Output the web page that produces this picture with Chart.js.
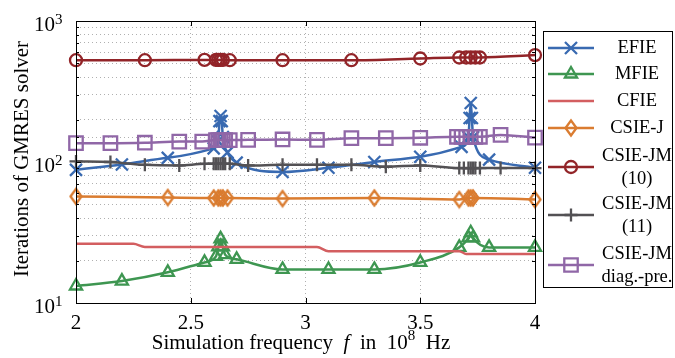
<!DOCTYPE html>
<html>
<head>
<meta charset="utf-8">
<script src="https://cdn.jsdelivr.net/npm/chart.js@4.4.0/dist/chart.umd.min.js"></script>
<style>
  html, body { margin: 0; padding: 0; background: #fff; }
  #wrap { width: 675px; height: 358px; }
</style>
</head>
<body>
<div id="wrap"><canvas id="chart"></canvas></div>
<script>
// series labels (legend)
const labels = ['EFIE', 'MFIE', 'CFIE', 'CSIE-J', ['CSIE-JM', '(10)'], ['CSIE-JM', '(11)'], ['CSIE-JM', 'diag.-pre.']];

// frequencies (10^8 Hz) and GMRES iterations
const efieF = [2, 2.2, 2.4, 2.6, 2.62, 2.625, 2.63, 2.635, 2.64, 2.66, 2.7, 2.9, 3.1, 3.3, 3.5, 3.68, 3.71, 3.715, 3.72, 3.725, 3.73, 3.8, 4];
const efieV = [88, 96, 107, 125, 140, 195, 212, 195, 150, 117, 99, 85, 91, 100, 109, 128, 150, 205, 262, 205, 150, 104, 91];

const mfieF = [2, 2.2, 2.4, 2.56, 2.61, 2.62, 2.63, 2.64, 2.65, 2.7, 2.9, 3.1, 3.3, 3.5, 3.67, 3.71, 3.72, 3.73, 3.8, 4];
const mfieV = [13.2, 14.3, 16.5, 19.4, 21.4, 25, 28.5, 25, 22, 20.4, 17.3, 17.3, 17.3, 19.4, 24.8, 29, 31.5, 29, 24.8, 24.8];

const cfieF = [2, 2.25, 2.3, 3.05, 3.1, 3.67, 3.7, 4];
const cfieV = [26.3, 26.3, 25.0, 25.0, 23.3, 23.3, 22.3, 22.3];

const csiejF = [2, 2.4, 2.6, 2.62, 2.63, 2.64, 2.66, 2.9, 3.3, 3.67, 3.71, 3.72, 3.73, 4];
const csiejV = [57, 56, 55.6, 55.6, 55.6, 55.6, 55.6, 55, 55.6, 54.2, 55.6, 55.6, 55.6, 54.2];

const jm10F = [2, 2.3, 2.56, 2.61, 2.62, 2.63, 2.64, 2.67, 2.9, 3.2, 3.5, 3.67, 3.7, 3.72, 3.74, 3.76, 4];
const jm10V = [527, 527, 530, 530, 530, 530, 530, 527, 527, 527, 542, 551, 551, 551, 551, 551, 573];

const jm11F = [2, 2.15, 2.3, 2.45, 2.56, 2.6, 2.61, 2.62, 2.63, 2.64, 2.65, 2.67, 2.75, 2.9, 3.05, 3.2, 3.35, 3.5, 3.67, 3.69, 3.71, 3.72, 3.73, 3.74, 3.76, 3.85, 4];
const jm11V = [101, 100, 95.5, 94.5, 97, 97, 97, 97, 97, 97, 97, 97, 94.5, 95.5, 95.5, 95.5, 92.5, 94.5, 90.6, 90.6, 90.6, 90.6, 90.6, 90.6, 90.6, 90.6, 90.6];

const diagF = [2, 2.15, 2.3, 2.45, 2.55, 2.61, 2.62, 2.63, 2.64, 2.65, 2.67, 2.75, 2.9, 3.05, 3.2, 3.35, 3.5, 3.66, 3.68, 3.7, 3.72, 3.74, 3.76, 3.85, 4];
const diagV = [136, 136, 137, 139.6, 139.6, 143, 143, 143, 143, 143, 143, 143.6, 144.5, 143.6, 147.6, 147.6, 148.5, 151, 151, 151, 151, 151, 151, 155.6, 149];

const yMajor = [10, 100, 1000];
const yExp = ['1', '2', '3'];

const serif = '"Liberation Serif", "Times New Roman", "DejaVu Serif", serif';

// tall diamond marker (pgfplots style), drawn once
function diamond(color) {
    const c = document.createElement('canvas');
    c.width = 16; c.height = 20;
    const g = c.getContext('2d');
    g.strokeStyle = color;
    g.lineWidth = 2.3;
    g.beginPath();
    g.moveTo(8, 2.5); g.lineTo(13.5, 10); g.lineTo(8, 17.5); g.lineTo(2.5, 10);
    g.closePath();
    g.stroke();
    return c;
}

function series(i, f, v, color, style, radius, order) {
    return {
        label: Array.isArray(labels[i]) ? labels[i].join(' ') : labels[i],
        data: f.map((x, k) => ({ x: x, y: v[k] })),
        borderColor: color,
        backgroundColor: color,
        borderWidth: 2.5,
        pointStyle: style,
        pointRadius: radius,
        pointBorderWidth: 2.3,
        pointBorderColor: color,
        pointBackgroundColor: 'rgba(0,0,0,0)',
        cubicInterpolationMode: 'monotone',
        clip: false,
        order: order
    };
}

const datasets = [
    series(0, efieF, efieV, '#396AB1', 'crossRot', 8.5, 7),
    series(1, mfieF, mfieV, '#3E9651', 'triangle', 7, 6),
    series(2, cfieF, cfieV, '#D35E60', false, 0, 5),
    series(3, csiejF, csiejV, '#DA7C30', diamond('#DA7C30'), 7, 4),
    series(4, jm10F, jm10V, '#922428', 'circle', 6, 3),
    series(5, jm11F, jm11V, '#535154', 'cross', 6.5, 2),
    series(6, diagF, diagV, '#9067A7', 'rect', 9.5, 1)
];

// frame, inward ticks, custom texts and the boxed legend
const decorations = {
    id: 'decorations',
    afterDraw(chart) {
        const ctx = chart.ctx;
        const a = chart.chartArea;
        const xs = chart.scales.x, ys = chart.scales.y;
        ctx.save();

        // inward tick marks
        ctx.strokeStyle = '#000';
        ctx.lineWidth = 1;
        ctx.beginPath();
        ys.ticks.forEach(t => {
            const y = Math.round(ys.getPixelForValue(t.value)) + 0.5;
            const len = yMajor.includes(t.value) ? 5 : 3;
            ctx.moveTo(a.left, y); ctx.lineTo(a.left + len, y);
            ctx.moveTo(a.right, y); ctx.lineTo(a.right - len, y);
        });
        xs.ticks.forEach(t => {
            const x = Math.round(xs.getPixelForValue(t.value)) + 0.5;
            ctx.moveTo(x, a.bottom); ctx.lineTo(x, a.bottom - 5);
            ctx.moveTo(x, a.top); ctx.lineTo(x, a.top + 5);
        });
        ctx.stroke();

        // frame
        ctx.strokeRect(Math.round(a.left) + 0.5, Math.round(a.top) + 0.5,
            Math.round(a.right - a.left), Math.round(a.bottom - a.top));

        // y tick labels 10^n
        ctx.fillStyle = '#000';
        yMajor.forEach((v, i) => {
            const y = ys.getPixelForValue(v);
            ctx.font = '21px ' + serif;
            ctx.textAlign = 'right';
            ctx.textBaseline = 'alphabetic';
            ctx.fillText('10', a.left - 21, y + 10);
            ctx.font = '15px ' + serif;
            ctx.textAlign = 'left';
            ctx.fillText(yExp[i], a.left - 21, y + 2.5);
        });

        // y title
        ctx.save();
        ctx.translate(22, (a.top + a.bottom) / 2 - 3);
        ctx.rotate(-Math.PI / 2);
        ctx.font = '21px ' + serif;
        ctx.textAlign = 'center';
        ctx.textBaseline = 'middle';
        ctx.fillText('Iterations of GMRES solver', 0, 0);
        ctx.restore();

        // x title with italic f and superscript
        const parts = [
            { t: 'Simulation frequency  ', f: '21px ' + serif, dy: 0 },
            { t: 'f', f: 'italic 21px ' + serif, dy: 0 },
            { t: '  in  10', f: '21px ' + serif, dy: 0 },
            { t: '8', f: '15px ' + serif, dy: -9 },
            { t: '  Hz', f: '21px ' + serif, dy: 0 }
        ];
        let total = 0;
        parts.forEach(p => { ctx.font = p.f; p.w = ctx.measureText(p.t).width; total += p.w; });
        let px = 301 - total / 2;
        ctx.textAlign = 'left';
        ctx.textBaseline = 'alphabetic';
        parts.forEach(p => { ctx.font = p.f; ctx.fillText(p.t, px, 349 + p.dy); px += p.w; });

        // legend
        ctx.strokeStyle = '#000';
        ctx.lineWidth = 1;
        ctx.strokeRect(543.5, 31.5, 129, 256);
        const rowY = [48, 74, 101, 128, 167, 215, 265];
        chart.data.datasets.forEach((ds, i) => {
            const y = rowY[i];
            ctx.strokeStyle = ds.borderColor;
            ctx.fillStyle = 'rgba(0,0,0,0)';
            ctx.lineWidth = 2.5;
            ctx.beginPath();
            ctx.moveTo(548, y); ctx.lineTo(594, y);
            ctx.stroke();
            if (ds.pointStyle) {
                ctx.lineWidth = 2.3;
                Chart.helpers.drawPoint(ctx, {
                    pointStyle: ds.pointStyle, radius: ds.pointRadius,
                    borderWidth: 2.3, rotation: 0
                }, 571, y);
            }
            ctx.fillStyle = '#000';
            ctx.font = '18.5px ' + serif;
            ctx.textAlign = 'center';
            ctx.textBaseline = 'middle';
            const lab = labels[i];
            if (Array.isArray(lab)) {
                ctx.fillText(lab[0], 637, y - 11);
                ctx.fillText(lab[1], 637, y + 12);
            } else {
                ctx.fillText(lab, 637, y);
            }
        });
        ctx.restore();
    }
};

new Chart(document.getElementById('chart'), {
    type: 'line',
    data: { datasets: datasets },
    options: {
        responsive: true,
        maintainAspectRatio: false,
        animation: false,
        layout: { padding: { left: 0, right: 140, top: 21, bottom: 0 } },
        plugins: {
            legend: { display: false },
            tooltip: { enabled: false }
        },
        scales: {
            x: {
                type: 'linear',
                min: 2,
                max: 4,
                ticks: {
                    stepSize: 0.5,
                    color: '#000',
                    padding: 8,
                    font: { family: serif, size: 21 },
                    callback: v => String(v)
                },
                grid: { color: '#b0b0b0', lineWidth: 1, drawTicks: false },
                border: { display: false, dash: [1, 3] },
                afterFit: s => { s.height = 55; }
            },
            y: {
                type: 'logarithmic',
                min: 10,
                max: 1000,
                ticks: { display: false, autoSkip: false },
                grid: { color: '#b0b0b0', lineWidth: 1, drawTicks: false },
                border: { display: false, dash: [1, 3] },
                afterFit: s => { s.width = 76; }
            }
        }
    },
    plugins: [decorations]
});
</script>
</body>
</html>
